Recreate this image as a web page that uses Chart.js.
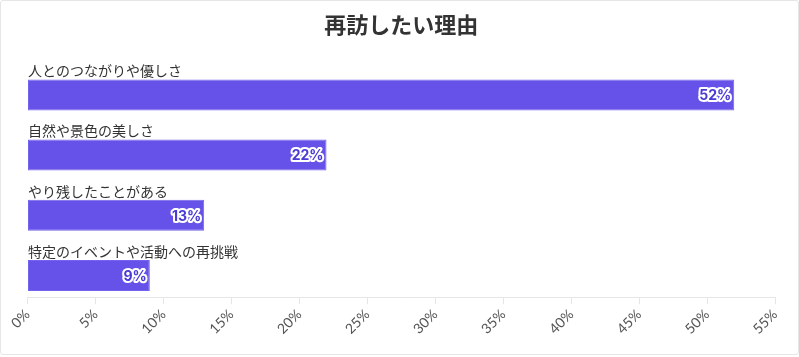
<!DOCTYPE html>
<html>
<head>
<meta charset="utf-8">
<script src="https://cdn.jsdelivr.net/npm/chart.js@4.4.1/dist/chart.umd.min.js"></script>
<style>
  html, body { margin: 0; padding: 0; background: #fff; }
  #wrap { position: absolute; left: 0; top: 0; width: 797px; height: 353px; border: 1px solid #e6e6e6; border-radius: 3px; background: #fff; }
  canvas { display: block; }
</style>
</head>
<body>
<div id="wrap"><canvas id="c" width="797" height="353"></canvas></div>
<script>
const titleText = '再訪したい理由';
const categories = ['人とのつながりや優しさ', '自然や景色の美しさ', 'やり残したことがある', '特定のイベントや活動への再挑戦'];
const values = [52, 22, 13, 9];
const axisMax = 55;
const axisStep = 5;

const LABEL_FONT = 14;
const SHIFT = LABEL_FONT * 0.6;

const labelPlugin = {
  id: 'labelAbove',
  beforeDatasetsDraw(chart) {
    chart.ctx.save();
    chart.ctx.translate(0, SHIFT);
  },
  afterDatasetsDraw(chart) {
    const ctx = chart.ctx;
    ctx.restore();
    const meta = chart.getDatasetMeta(0);
    meta.data.forEach((bar, i) => {
      const top = bar.y + SHIFT - bar.height / 2;
      ctx.save();
      ctx.font = LABEL_FONT + 'px "Noto Sans CJK JP", "Noto Sans", sans-serif';
      ctx.fillStyle = '#333';
      ctx.textAlign = 'left';
      ctx.textBaseline = 'middle';
      ctx.fillText(categories[i], bar.base, top - 8.5);
      ctx.font = 'bold 14px Inter, "Noto Sans", sans-serif';
      ctx.textAlign = 'right';
      ctx.textBaseline = 'middle';
      const t = values[i] + '%';
      const tx = bar.x - 3;
      const ty = bar.y + SHIFT + 1;
      ctx.lineJoin = 'round';
      ctx.lineWidth = 4;
      ctx.strokeStyle = '#ffffff';
      ctx.strokeText(t, tx, ty);
      ctx.fillStyle = '#4a3bd4';
      ctx.fillText(t, tx, ty);
      ctx.restore();
    });
  }
};

new Chart(document.getElementById('c'), {
  type: 'bar',
  data: {
    labels: categories,
    datasets: [{
      data: values,
      backgroundColor: '#6652e8',
      borderColor: '#7463ec',
      borderWidth: 1,
      borderSkipped: false,
      categoryPercentage: 1,
      barPercentage: 0.515
    }]
  },
  options: {
    indexAxis: 'y',
    responsive: false,
    animation: false,
    layout: { padding: { left: 26.5, right: 23, top: 6, bottom: 14.5 } },
    plugins: {
      legend: { display: false },
      tooltip: { enabled: false },
      title: {
        display: true,
        text: titleText,
        color: '#333',
        font: { family: '"Noto Sans CJK JP", sans-serif', size: 22, weight: 'bold' },
        padding: { top: 4, bottom: 19 }
      }
    },
    scales: {
      x: {
        min: 0,
        max: axisMax,
        ticks: {
          stepSize: axisStep,
          minRotation: 45,
          maxRotation: 45,
          color: '#555',
          font: { family: 'Lato, sans-serif', size: 14 },
          padding: 2,
          callback: v => v + '%'
        },
        grid: { drawOnChartArea: false, drawTicks: true, tickLength: 7, color: '#e6e6e6' },
        border: { color: '#e6e6e6' }
      },
      y: {
        display: false
      }
    }
  },
  plugins: [labelPlugin]
});
</script>
</body>
</html>
